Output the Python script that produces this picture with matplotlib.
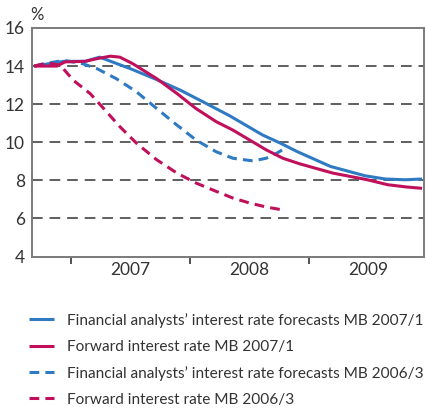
import matplotlib
matplotlib.use("Agg")
import matplotlib.pyplot as plt
import numpy as np

# ---- data (x in fractional years) ----
fa07_x = [2006.69, 2006.94, 2007.12, 2007.24, 2007.50, 2007.72, 2007.92, 2008.11, 2008.33,
          2008.61, 2008.76, 2008.90, 2009.18, 2009.47, 2009.64, 2009.81, 2009.95]
fa07_y = [14.0, 14.25, 14.25, 14.47, 13.86, 13.29, 12.73, 12.12, 11.40,
          10.38, 9.95, 9.51, 8.73, 8.24, 8.07, 8.03, 8.07]

fw07_x = [2006.69, 2006.88, 2006.95, 2007.12, 2007.21, 2007.33, 2007.41, 2007.52, 2007.72,
          2007.89, 2008.05, 2008.22, 2008.36, 2008.64, 2008.78, 2008.92, 2009.20,
          2009.49, 2009.66, 2009.82, 2009.95]
fw07_y = [14.0, 14.0, 14.22, 14.25, 14.38, 14.52, 14.47, 14.12, 13.34,
          12.56, 11.77, 11.08, 10.64, 9.60, 9.16, 8.87, 8.38,
          8.03, 7.77, 7.65, 7.58]

fa06_x = [2006.69, 2006.80, 2006.94, 2007.10, 2007.22, 2007.38, 2007.55, 2007.72,
          2007.89, 2008.05, 2008.22, 2008.36, 2008.53, 2008.64, 2008.73, 2008.80]
fa06_y = [14.0, 14.15, 14.30, 14.12, 13.86, 13.34, 12.65, 11.77,
          10.90, 10.12, 9.50, 9.16, 9.02, 9.16, 9.43, 9.69]

fw06_x = [2006.69, 2006.77, 2006.85, 2006.91, 2007.02, 2007.16, 2007.27, 2007.41, 2007.55,
          2007.72, 2007.89, 2008.05, 2008.22, 2008.36, 2008.50, 2008.64, 2008.80]
fw06_y = [14.0, 14.12, 14.12, 14.04, 13.25, 12.56, 11.80, 10.82, 9.95,
          9.08, 8.38, 7.86, 7.42, 7.07, 6.81, 6.60, 6.42]

labels = ["Financial analysts\u2019 interest rate forecasts MB 2007/1",
          "Forward interest rate MB 2007/1",
          "Financial analysts\u2019 interest rate forecasts MB 2006/3",
          "Forward interest rate MB 2006/3"]
years = [2007, 2008, 2009]
yticks = [4, 6, 8, 10, 12, 14, 16]

BLUE = "#2f7bc3"
RED = "#c0105c"
FONT = ["Lato", "DejaVu Sans"]
plt.rcParams["font.family"] = FONT
TXT = "#333333"

fig = plt.figure(figsize=(4.27, 4.08), dpi=100)
ax = fig.add_axes([32 / 427, 1 - 256.5 / 408, (424 - 32) / 427, (256.5 - 28) / 408])

for yv in [6, 8, 10, 12, 14]:
    ax.axhline(yv, color="#333333", lw=1.1, dashes=(7, 4.5), zorder=1)

l1, = ax.plot(fa07_x, fa07_y, color=BLUE, lw=2.2, solid_capstyle="butt",
              solid_joinstyle="round", zorder=3)
l2, = ax.plot(fw07_x, fw07_y, color=RED, lw=2.2, solid_capstyle="butt",
              solid_joinstyle="round", zorder=4)
l3, = ax.plot(fa06_x, fa06_y, color=BLUE, lw=2.2, dashes=(3.2, 2.0), zorder=3)
l4, = ax.plot(fw06_x, fw06_y, color=RED, lw=2.2, dashes=(3.2, 2.0), zorder=3)

ax.set_xlim(2006.672, 2009.966)
ax.set_ylim(4, 16)
ax.set_yticks(yticks)
ax.set_yticklabels([str(v) for v in yticks], fontsize=12.5, color=TXT)
ax.tick_params(axis="y", length=0, pad=5)
ax.set_xticks(years)
ax.set_xticklabels([])
ax.tick_params(axis="x", length=5, width=1.2, color="#333333", direction="out")
ax.set_xticks([y + 0.5 for y in years], minor=True)
ax.set_xticklabels([str(y) for y in years], minor=True, fontsize=12.5, color=TXT)
ax.tick_params(axis="x", which="minor", length=0, pad=4)

for s in ax.spines.values():
    s.set_color("#7a7a7a")
    s.set_linewidth(1.4)

fig.text(30 / 427, 1 - 15 / 408, "%", fontsize=12, color=TXT, va="center", ha="left")

leg = fig.legend([l1, l2, l3, l4], labels, loc="upper left",
                 bbox_to_anchor=(29 / 427, 1 - 313 / 408), frameon=False,
                 fontsize=11.1, handlelength=1.6, handletextpad=0.85,
                 labelspacing=0.78, borderaxespad=0, borderpad=0, labelcolor=TXT)

fig.savefig("out.png", dpi=100)
